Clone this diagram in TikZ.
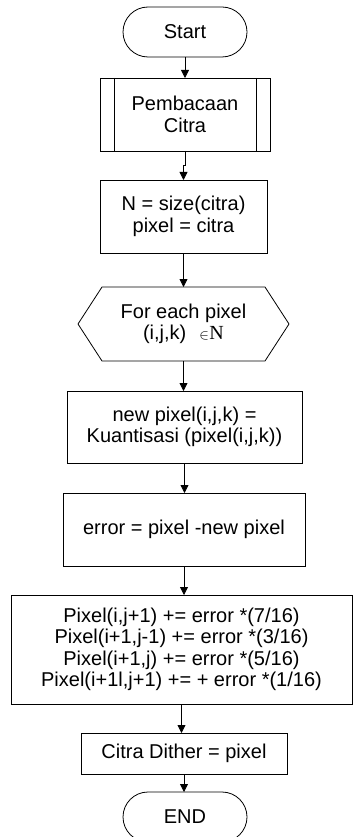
\documentclass[tikz,border=0pt]{standalone}
\usepackage{fontspec}
\setmainfont{Liberation Sans}
\newfontfamily\serifN{Liberation Serif}
\usetikzlibrary{arrows.meta}
\begin{document}
\begin{tikzpicture}[x=1pt,y=-1pt,
  every node/.style={font=\fontsize{20}{21.5}\selectfont, align=center, inner sep=0pt, outer sep=0pt},
  box/.style={draw, line width=0.8pt, rectangle},
  term/.style={draw, line width=0.8pt, rounded corners=25pt, minimum height=50pt, minimum width=124pt},
  flow/.style={draw, line width=0.8pt, -{Triangle[length=8pt,width=8pt]}},
  edge/.style={line width=0.8pt}]
  \useasboundingbox (0,0) rectangle (353,837);

  % terminals, process boxes and the loop header
  \node[term] (start) at (185,32) {Start};
  \node[box, minimum width=170pt, minimum height=73pt] (read) at (185,114.5) {Pembacaan\\Citra};
  \draw[edge] ([xshift=14pt]read.north west) -- ([xshift=14pt]read.south west);
  \draw[edge] ([xshift=-14pt]read.north east) -- ([xshift=-14pt]read.south east);
  \node[box, minimum width=167pt, minimum height=73pt] (init) at (183.5,216.5) {N = size(citra)\\pixel = citra};
  \node[minimum width=163pt, minimum height=74pt] (loop) at (183.5,324)
    {For each pixel\\(i,j,k)\hspace{13pt}{\fontsize{15}{15}\selectfont$\in$}\hspace{0.5pt}{\serifN N}};
  \draw[edge] (loop.north west) -- (loop.north east) -- ([xshift=24pt]loop.east)
    -- (loop.south east) -- (loop.south west) -- ([xshift=-24pt]loop.west) -- cycle;
  \node[box, minimum width=235pt, minimum height=72pt] (quant) at (184.5,427) {new pixel(i,j,k) =\\Kuantisasi (pixel(i,j,k))};
  \node[box, minimum width=242pt, minimum height=73pt] (err) at (184,529.5) {error = pixel -new pixel};
  \node[box, minimum width=341pt, minimum height=109pt] (diff) at (181.5,649.5)
    {Pixel(i,j+1) += error *(7/16)\\Pixel(i+1,j-1) += error *(3/16)\\Pixel(i+1,j) += error *(5/16)\\Pixel(i+1l,j+1) += + error *(1/16)};
  \node[box, minimum width=206pt, minimum height=41pt] (out) at (184,753.5) {Citra Dither = pixel};
  \node[term] (stop) at (185,817) {END};

  % connectors
  \draw[flow] (start.south) -- (start.south |- read.north);
  \draw[flow] (read.south) -- ++(0,14) -| (init.north);
  \draw[flow] (init.south) -- (init.south |- loop.north);
  \draw[flow] (loop.south) -- (loop.south |- quant.north);
  \draw[flow] (quant.south) -- (quant.south |- err.north);
  \draw[flow] (err.south) -- (err.south |- diff.north);
  \draw[flow] (diff.south) -- (diff.south |- out.north);
  \draw[flow] (out.south) -- (out.south |- stop.north);
\end{tikzpicture}
\end{document}
